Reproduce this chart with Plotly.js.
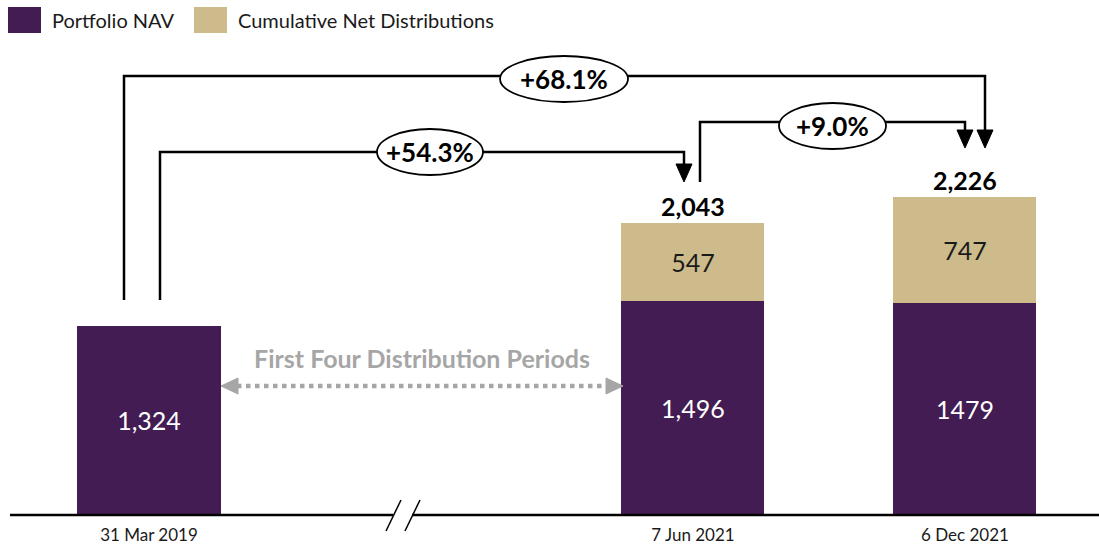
<!DOCTYPE html>
<html>
<head>
<meta charset="utf-8">
<script src="https://cdn.plot.ly/plotly-3.0.1.min.js"></script>
<style>html,body{margin:0;padding:0;background:#fff;}#chart{width:1099px;height:547px;}</style>
</head>
<body>
<div id="chart"></div>
<script>
// ---- data ----
const categories = ['31 Mar 2019', '7 Jun 2021', '6 Dec 2021'];
const xSlots = [0, 2, 3];
const seriesNames = ['Portfolio NAV', 'Cumulative Net Distributions'];
const navValues = [1324, 1496, 1479];
const distValues = [0, 547, 747];
const navLabels = ['1,324', '1,496', '1479'];
const distLabels = ['', '547', '747'];
const totalValues = [null, 2043, 2226];
const totalLabels = ['', '2,043', '2,226'];
const growthLabels = ['+68.1%', '+54.3%', '+9.0%'];
const periodLabel = 'First Four Distribution Periods';

// ---- styling ----
const PURPLE = '#431c53';
const TAN = '#cebb8b';
const GREY = '#a6a6a6';
const FONT = 'Lato, "Open Sans", sans-serif';

const W = 1099, H = 547, L = 10, B = 32;
const plotW = W - L, plotH = H - B;
const xr = [-0.511, 3.493];
const yr = [0, 3600];
// pixel -> paper helpers for decoration
const xp = px => (px - L) / plotW;
const yp = py => (plotH - py) / plotH;

const shapes = [];
const annotations = [];
function line(pts, color, width, dash) {
  let d = 'M ' + pts.map(p => xp(p[0]) + ',' + yp(p[1])).join(' L ');
  shapes.push({type: 'path', xref: 'paper', yref: 'paper', path: d,
    line: {color: color, width: width, dash: dash || 'solid'}, layer: 'above'});
}
function tri(pts, color) {
  let d = 'M ' + pts.map(p => xp(p[0]) + ',' + yp(p[1])).join(' L ') + ' Z';
  shapes.push({type: 'path', xref: 'paper', yref: 'paper', path: d,
    fillcolor: color, line: {color: color, width: 1}, layer: 'above'});
}
function downArrow(x, yTip) { tri([[x - 8, yTip - 18], [x + 8, yTip - 18], [x, yTip]], '#000'); }
function ellipse(x0, x1, y0, y1, label) {
  shapes.push({type: 'circle', xref: 'paper', yref: 'paper',
    x0: xp(x0), x1: xp(x1), y0: yp(y1), y1: yp(y0),
    fillcolor: '#fff', line: {color: '#000', width: 1.8}, layer: 'above'});
  annotations.push({xref: 'paper', yref: 'paper', x: xp((x0 + x1) / 2), y: yp((y0 + y1) / 2),
    text: '<b>' + label + '</b>', showarrow: false, xanchor: 'center', yanchor: 'middle',
    font: {family: FONT, size: 26, color: '#000'}});
}

// connectors
line([[124, 300], [124, 76], [985, 76], [985, 132]], '#000', 2.5);
downArrow(985, 148);
line([[160, 300], [160, 152], [684, 152], [684, 166]], '#000', 2.5);
downArrow(684, 182);
line([[700, 182], [700, 122], [965, 122], [965, 132]], '#000', 2.5);
downArrow(965, 148);
ellipse(500, 628, 56, 102, growthLabels[0]);
ellipse(377, 483, 129, 175, growthLabels[1]);
ellipse(779, 886, 103, 149, growthLabels[2]);

// dotted period arrow
line([[237, 386], [607, 386]], GREY, 4.5, 'dot');
tri([[221, 386], [238, 378], [238, 394]], GREY);
tri([[623, 386], [606, 378], [606, 394]], GREY);
annotations.push({xref: 'paper', yref: 'paper', x: xp(422), y: yp(358),
  text: '<b>' + periodLabel + '</b>', showarrow: false, xanchor: 'center', yanchor: 'middle',
  font: {family: FONT, size: 25, color: GREY}});

// baseline with break
line([[10, 515], [393, 515]], '#000', 2.5);
line([[412, 515], [1099, 515]], '#000', 2.5);
line([[386, 531], [401, 500]], '#000', 1.5);
line([[405, 531], [420, 500]], '#000', 1.5);

// legend (manual)
shapes.push({type: 'rect', xref: 'paper', yref: 'paper', x0: xp(8), x1: xp(41), y0: yp(33), y1: yp(7),
  fillcolor: PURPLE, line: {width: 0}, layer: 'above'});
shapes.push({type: 'rect', xref: 'paper', yref: 'paper', x0: xp(194), x1: xp(227), y0: yp(33), y1: yp(7),
  fillcolor: TAN, line: {width: 0}, layer: 'above'});
annotations.push({xref: 'paper', yref: 'paper', x: xp(50), y: yp(20), text: seriesNames[0],
  showarrow: false, xanchor: 'left', yanchor: 'middle', font: {family: FONT, size: 20, color: '#1a1a1a'}});
annotations.push({xref: 'paper', yref: 'paper', x: xp(236), y: yp(20), text: seriesNames[1],
  showarrow: false, xanchor: 'left', yanchor: 'middle', font: {family: FONT, size: 20, color: '#1a1a1a'}});

// totals
xSlots.forEach((x, i) => {
  if (totalValues[i] == null) return;
  annotations.push({x: x, y: totalValues[i], xref: 'x', yref: 'y', text: '<b>' + totalLabels[i] + '</b>',
    showarrow: false, xanchor: 'center', yanchor: 'bottom', yshift: 0,
    font: {family: FONT, size: 25, color: '#000'}});
});

const traces = [
  {type: 'bar', name: seriesNames[0], x: xSlots, y: navValues, width: 0.526,
   marker: {color: PURPLE, line: {width: 0}}, text: navLabels, textposition: 'inside',
   insidetextanchor: 'middle', textangle: 0, textfont: {family: FONT, size: 25, color: '#fff'},
   hoverinfo: 'none'},
  {type: 'bar', name: seriesNames[1], x: xSlots, y: distValues, width: 0.526,
   marker: {color: TAN, line: {width: 0}}, text: distLabels, textposition: 'inside',
   insidetextanchor: 'middle', textangle: 0, textfont: {family: FONT, size: 25, color: '#1a1a1a'},
   hoverinfo: 'none'}
];

const layout = {
  width: W, height: H, barmode: 'stack', showlegend: false,
  margin: {l: L, r: 0, t: 0, b: B, pad: 0},
  paper_bgcolor: '#fff', plot_bgcolor: '#fff',
  font: {family: FONT},
  xaxis: {range: xr, tickmode: 'array', tickvals: xSlots, ticktext: categories,
    showgrid: false, zeroline: false, showline: false, ticks: 'outside', ticklen: 5,
    tickcolor: 'rgba(0,0,0,0)',
    tickfont: {family: FONT, size: 17, color: '#1a1a1a'}, fixedrange: true},
  yaxis: {range: yr, visible: false, showgrid: false, zeroline: false, fixedrange: true},
  shapes: shapes, annotations: annotations, uniformtext: {mode: false}
};

Plotly.newPlot('chart', traces, layout, {staticPlot: true, displayModeBar: false});
</script>
</body>
</html>
